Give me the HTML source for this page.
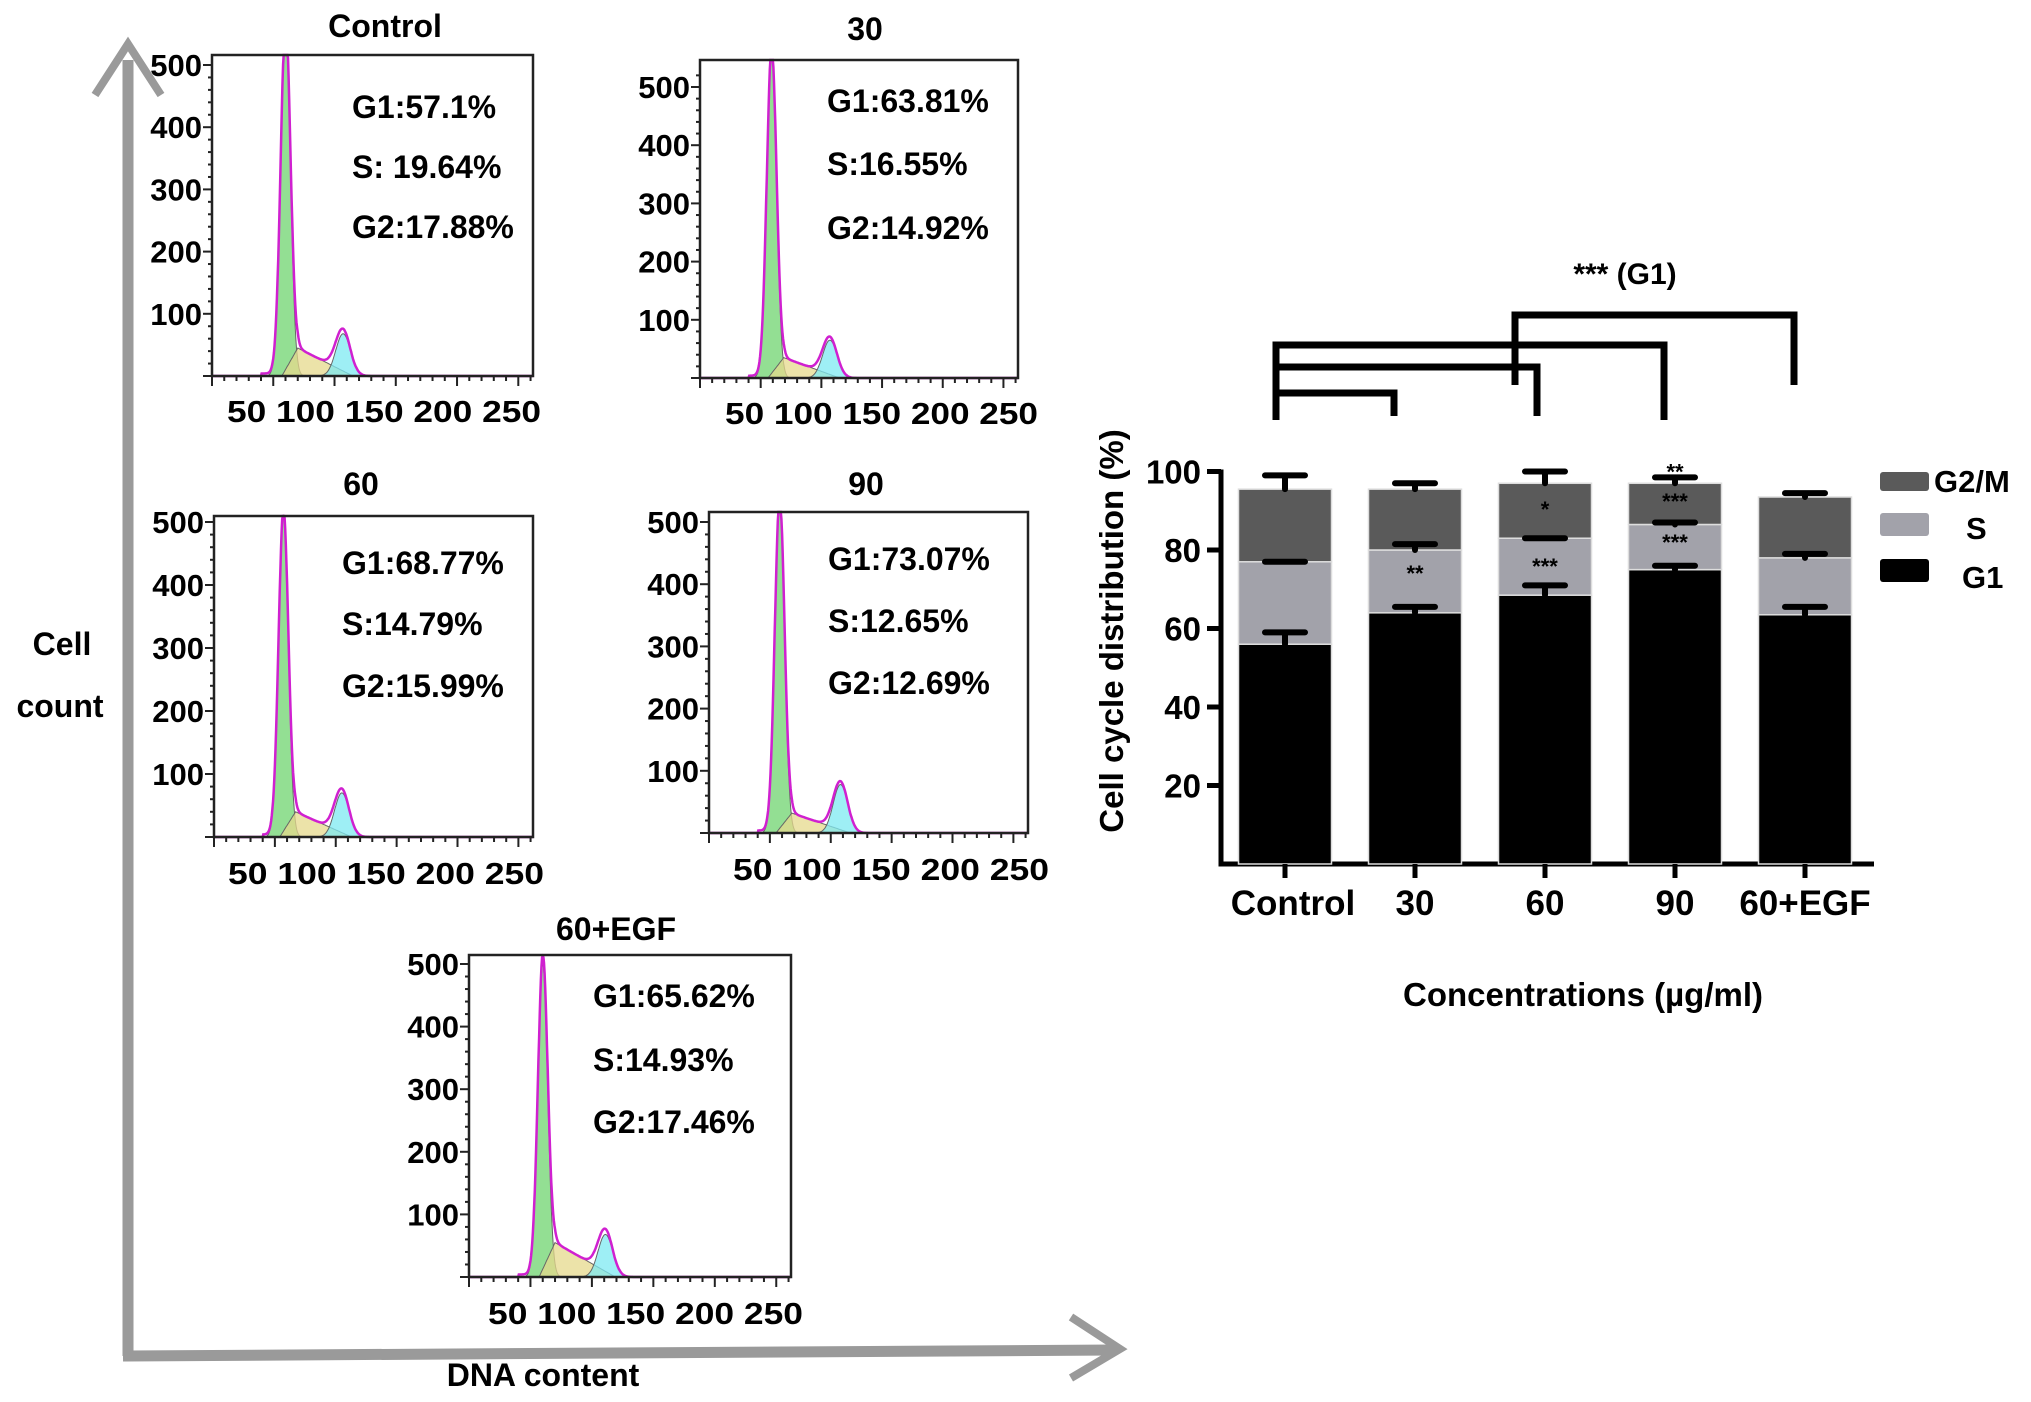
<!DOCTYPE html>
<html><head><meta charset="utf-8"><style>
html,body{margin:0;padding:0;background:#fff}
svg{display:block}
text{font-family:"Liberation Sans",Arial,sans-serif;font-weight:bold;fill:#000}
</style></head><body>
<svg id="fig" width="2031" height="1402" viewBox="0 0 2031 1402" xmlns="http://www.w3.org/2000/svg">
<rect width="2031" height="1402" fill="#fff"/>
<g id="arrows">
  <line x1="128" y1="60" x2="128" y2="1356" stroke="#9a9a9a" stroke-width="11"/>
  <polyline points="95,95 128,44 161,95" fill="none" stroke="#9a9a9a" stroke-width="8"/>
  <line x1="123" y1="1356" x2="1115" y2="1350" stroke="#9a9a9a" stroke-width="11"/>
  <polyline points="1071,1317 1120,1349 1071,1378" fill="none" stroke="#9a9a9a" stroke-width="8"/>
  <text x="62" y="655" font-size="32" text-anchor="middle">Cell</text>
  <text x="60" y="717" font-size="32" text-anchor="middle">count</text>
  <text x="543" y="1386" font-size="32" text-anchor="middle">DNA  content</text>
</g>
<g id="hists"></g>
<g id="bars"></g>
</svg>
<script>
// ---------- Histogram panel data ----------
const panelNames = ["Control", "30", "60", "90", "60+EGF"];
const g1Text = ["G1:57.1%", "G1:63.81%", "G1:68.77%", "G1:73.07%", "G1:65.62%"];
const sText = ["S: 19.64%", "S:16.55%", "S:14.79%", "S:12.65%", "S:14.93%"];
const g2Text = ["G2:17.88%", "G2:14.92%", "G2:15.99%", "G2:12.69%", "G2:17.46%"];
const g1Pos = [60, 59, 57, 58, 60];
const g1Height = [560, 560, 510, 530, 500];
const sHeight = [45, 35, 40, 32, 55];
const g2Pos = [107, 107, 105, 108, 111];
const g2Height = [68, 65, 70, 78, 68];
const histYTicks = [100, 200, 300, 400, 500];
const histXTicks = ["50", "100", "150", "200", "250"];
// ---------- Bar chart data ----------
const categories = ["Control", "30", "60", "90", "60+EGF"];
const g1Vals = [56, 64, 68.5, 75, 63.5];
const sVals = [21, 16, 14.5, 11.5, 14.5];
const g2Vals = [18.5, 15.5, 14, 10.5, 15.5];
const g1Err = [3, 1.5, 2.5, 1, 2];
const sErr = [0, 1.5, 0, 0.5, 1];
const g2Err = [3.5, 1.5, 3, 1.5, 1];
const barYTicks = [20, 40, 60, 80, 100];
const legendLabels = ["G2/M", "S", "G1"];

const NS = "http://www.w3.org/2000/svg";
function mk(tag, attrs, parent) {
  const e = document.createElementNS(NS, tag);
  for (const k in attrs) e.setAttribute(k, attrs[k]);
  parent.appendChild(e);
  return e;
}
const boxes = [
  {x0:212,x1:533,top:55,bot:376,y500:65,tx:385,ty:37,sx:352,sy:[118,178,238],xl:[227,541],xly:422},
  {x0:700,x1:1018,top:60,bot:378,y500:87,tx:865,ty:40,sx:827,sy:[112,175,239],xl:[725,1038],xly:424},
  {x0:214,x1:533,top:516,bot:837,y500:522,tx:361,ty:495,sx:342,sy:[574,635,697],xl:[228,544],xly:884},
  {x0:709,x1:1028,top:512,bot:833,y500:522,tx:866,ty:495,sx:828,sy:[570,632,694],xl:[733,1049],xly:880},
  {x0:469,x1:791,top:955,bot:1277,y500:964,tx:616,ty:940,sx:593,sy:[1007,1071,1133],xl:[488,803],xly:1324}
];
const hroot = document.getElementById("hists");
boxes.forEach((b, i) => {
  const g = mk("g", {}, hroot);
  
  
  const xs = c => b.x0 + c / 262 * (b.x1 - b.x0);
  const ys = v => b.bot - Math.min(v, 560) / 500 * (b.bot - b.y500);
  const clipV = v => Math.max(ys(v), b.top);
  const g1 = c => g1Height[i] * Math.exp(-Math.pow(c - g1Pos[i], 2) / (2 * 16));
  const sC = c => {
    const a = g1Pos[i] - 3, p = g1Pos[i] + 10, e = g2Pos[i] + 8;
    if (c < a || c > e) return 0;
    return c < p ? sHeight[i] * (c - a) / (p - a) : sHeight[i] * (e - c) / (e - p);
  };
  const g2 = c => g2Height[i] * Math.exp(-Math.pow(c - g2Pos[i], 2) / (2 * 36));
  function area(f, color, name) {
    let d = "M" + xs(30) + "," + b.bot;
    for (let c = 30; c <= 150; c += 0.5) d += " L" + xs(c).toFixed(1) + "," + clipV(f(c)).toFixed(1);
    d += " L" + xs(150) + "," + b.bot + "Z";
    const p = mk("path", {d: d, fill: color, "fill-opacity": 0.75, stroke: "#666", "stroke-width": 1}, g);
    
    
  }
  area(g1, "#6fd46f", "g1-peak");
  area(sC, "#e6d98c", "s-phase-area");
  area(g2, "#7ee9f2", "g2-peak");
  let d = "";
  for (let c = 0; c <= 262; c += 0.5) {
    const v = g1(c) + sC(c) + g2(c) + (c > 40 && c < g1Pos[i] ? 4 : 0);
    d += (c === 0 ? "M" : " L") + xs(c).toFixed(1) + "," + clipV(v).toFixed(1);
  }
  const tot = mk("path", {d: d, fill: "none", stroke: "#d020d0", "stroke-width": 2.5}, g);
  
  
  const box = mk("rect", {x: b.x0, y: b.top, width: b.x1 - b.x0, height: b.bot - b.top, fill: "none", stroke: "#222", "stroke-width": 2.5}, g);
  
  
  for (let v = 0; v <= 520; v += 20) {
    if (ys(v) < b.top) continue;
    const major = v % 100 === 0;
    mk("line", {x1: b.x0 - (major ? 9 : 4), x2: b.x0, y1: ys(v), y2: ys(v), stroke: "#222", "stroke-width": 2}, g);
  }
  for (let c = 0; c <= 260; c += 10) {
    const major = c % 50 === 0;
    mk("line", {x1: xs(c), x2: xs(c), y1: b.bot, y2: b.bot + (major ? 10 : 5), stroke: "#222", "stroke-width": 2}, g);
  }
  histYTicks.forEach(v => {
    const t = mk("text", {x: b.x0 - 10, y: ys(v) + 11, "font-size": 31, "text-anchor": "end"}, g);
    t.textContent = v;
    
    
  });
  const xl = mk("text", {x: b.xl[0], y: b.xly, "font-size": 31, textLength: b.xl[1] - b.xl[0], lengthAdjust: "spacingAndGlyphs"}, g);
  xl.textContent = histXTicks.join(" ");
  
  
  const tt = mk("text", {x: b.tx, y: b.ty, "font-size": 32, "text-anchor": "middle"}, g);
  tt.textContent = panelNames[i];
  
  
  [g1Text[i], sText[i], g2Text[i]].forEach((s, k) => {
    const t = mk("text", {x: b.sx, y: b.sy[k], "font-size": 32}, g);
    t.textContent = s;
    
    
  });
});

// ---------- Bar chart ----------
const broot = document.getElementById("bars");
const X0 = 1221, X1 = 1874, BASE = 864, PER = 3.925;
const yv = v => BASE - v * PER;
const xc = i => 1285 + i * 130;
const BW = 93;
const axis = mk("path", {d: `M${X0},${yv(100)-2} L${X0},${BASE} L${X1},${BASE}`, fill: "none", stroke: "#000", "stroke-width": 5}, broot);


barYTicks.forEach(v => {
  mk("line", {x1: X0 - 14, x2: X0, y1: yv(v), y2: yv(v), stroke: "#000", "stroke-width": 5}, broot);
  const t = mk("text", {x: X0 - 20, y: yv(v) + 12, "font-size": 33, "text-anchor": "end"}, broot);
  t.textContent = v;
  
  
});
const colors = ["#000", "#a2a2aa", "#5a5a5a"];
categories.forEach((c, i) => {
  const segs = [g1Vals[i], sVals[i], g2Vals[i]];
  const errs = [g1Err[i], sErr[i], g2Err[i]];
  const names = ["bar-g1", "bar-s", "bar-g2m"];
  let base = 0;
  segs.forEach((v, k) => {
    const r = mk("rect", {x: xc(i) - BW / 2, y: yv(base + v), width: BW, height: v * PER, fill: colors[k], stroke: "#ddd", "stroke-width": 1.5}, broot);
    
    
    base += v;
  });
  base = 0;
  segs.forEach((v, k) => {
    base += v;
    const top = base + errs[k];
    const e = mk("path", {d: `M${xc(i)},${yv(base)} L${xc(i)},${yv(top)} M${xc(i)-20},${yv(top)} L${xc(i)+20},${yv(top)}`, stroke: "#000", "stroke-width": 6, "stroke-linecap": "round", fill: "none"}, broot);
    
    
  });
  mk("line", {x1: xc(i), x2: xc(i), y1: BASE, y2: BASE + 14, stroke: "#000", "stroke-width": 5}, broot);
  const t = mk("text", {x: xc(i) + (i === 0 ? 8 : 0), y: 915, "font-size": 35, "text-anchor": "middle"}, broot);
  t.textContent = c;
  
  
});
// significance marks
const starCat = [1, 2, 2, 3, 3, 3];
const starLevel = [75.2, 91.5, 76.9, 93.5, 83, 101];
const starText = ["**", "*", "***", "***", "***", "**"];
starCat.forEach((ci, k) => {
  const t = mk("text", {x: xc(ci), y: yv(starLevel[k]) + 12, "font-size": 22, "text-anchor": "middle"}, broot);
  t.textContent = starText[k];
  
  
});
// brackets (layout)
const brk = [[1276, 1394, 393, 420, 416], [1276, 1537, 367, 420, 416], [1276, 1664, 345, 420, 420], [1515, 1794, 315, 385, 385]];
brk.forEach(b => {
  const p = mk("path", {d: `M${b[0]},${b[3]} L${b[0]},${b[2]} L${b[1]},${b[2]} L${b[1]},${b[4]}`, fill: "none", stroke: "#000", "stroke-width": 7}, broot);
  
  
});
const st = mk("text", {x: 1625, y: 284, "font-size": 30, "text-anchor": "middle"}, broot);
st.textContent = "*** (G1)";


// legend
const legY = [472, 513, 559];
const legH = [19, 23, 23];
const legC = ["#5a5a5a", "#a2a2aa", "#000"];
const legX = [1934, 1966, 1962];
const legTY = [492, 539, 588];
legendLabels.forEach((l, k) => {
  const r = mk("rect", {x: 1880, y: legY[k], width: 49, height: legH[k], fill: legC[k], rx: 3}, broot);
  
  
  const t = mk("text", {x: legX[k], y: legTY[k], "font-size": 31}, broot);
  t.textContent = l;
  
  
});
const yt = mk("text", {x: 0, y: 0, "font-size": 33, "text-anchor": "middle", transform: "translate(1123,631) rotate(-90)"}, broot);
yt.textContent = "Cell cycle distribution (%)";


const xt = mk("text", {x: 1583, y: 1006, "font-size": 33, "text-anchor": "middle"}, broot);
xt.textContent = "Concentrations (µg/ml)";


</script>
</body></html>
